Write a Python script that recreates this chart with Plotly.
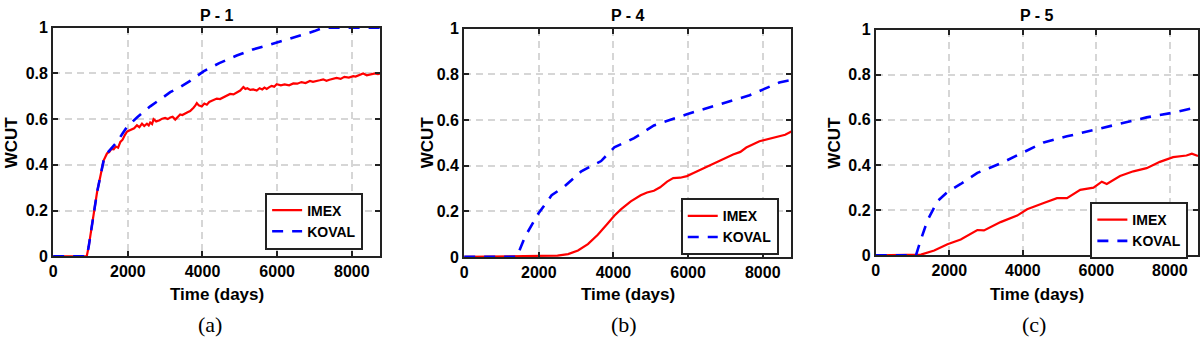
import plotly.graph_objects as go

# ---------------- data ----------------
titles = ["P - 1", "P - 4", "P - 5"]
panel_labels = ["(a)", "(b)", "(c)"]
series_names = ["IMEX", "KOVAL"]
x_ticks = [0, 2000, 4000, 6000, 8000]
x_tick_labels = ["0", "2000", "4000", "6000", "8000"]
y_ticks = [0, 0.2, 0.4, 0.6, 0.8, 1]
y_tick_labels = ["0", "0.2", "0.4", "0.6", "0.8", "1"]

a_imex_t = [0, 900, 950, 1040, 1176, 1290, 1354, 1443, 1500, 1560,
            1621, 1680, 1740, 1800, 1860, 1920, 1978, 2040, 2100, 2170,
            2245, 2310, 2380, 2440, 2512, 2560, 2600, 2650, 2690, 2760,
            2850, 2920, 3000, 3070, 3136, 3200, 3270, 3330, 3403, 3460,
            3530, 3600, 3670, 3720, 3760, 3810, 3849, 3900, 3980, 4050,
            4116, 4180, 4250, 4320, 4383, 4470, 4560, 4650, 4740, 4830,
            4920, 5010, 5096, 5150, 5200, 5280, 5360, 5452, 5530, 5600,
            5660, 5720, 5790, 5850, 5920, 5987, 6100, 6200, 6320, 6432,
            6540, 6650, 6760, 6878, 6960, 7050, 7140, 7234, 7320, 7400,
            7500, 7590, 7700, 7800, 7920, 8036, 8100, 8150, 8230, 8303,
            8400, 8481, 8550, 8620, 8700, 8766]
a_imex_v = [0, 0, 0.04, 0.143, 0.28, 0.37, 0.42, 0.45, 0.455, 0.47,
            0.468, 0.48, 0.475, 0.50, 0.51, 0.53, 0.545, 0.55, 0.555, 0.56,
            0.573, 0.565, 0.58, 0.57, 0.58, 0.572, 0.585, 0.578, 0.60, 0.59,
            0.595, 0.602, 0.605, 0.60, 0.607, 0.61, 0.598, 0.61, 0.62, 0.618,
            0.625, 0.63, 0.635, 0.642, 0.65, 0.66, 0.67, 0.66, 0.655, 0.668,
            0.663, 0.675, 0.68, 0.685, 0.69, 0.688, 0.695, 0.702, 0.71, 0.708,
            0.715, 0.725, 0.74, 0.732, 0.735, 0.728, 0.73, 0.725, 0.735, 0.73,
            0.738, 0.732, 0.74, 0.745, 0.742, 0.753, 0.748, 0.752, 0.748, 0.756,
            0.755, 0.762, 0.758, 0.767, 0.763, 0.765, 0.77, 0.774, 0.768, 0.772,
            0.778, 0.78, 0.776, 0.785, 0.782, 0.788, 0.786, 0.79, 0.795, 0.80,
            0.792, 0.795, 0.798, 0.80, 0.797, 0.80]
a_koval_t = [0, 900, 950, 1040, 1176, 1290, 1354, 1443, 1550, 1710, 1850, 1978, 2245, 2601, 2900,
             3136, 3400, 3670, 4027, 4450, 4918, 5350, 5809, 6250, 6700, 7000, 7234, 8766]
a_koval_v = [0, 0, 0.04, 0.143, 0.28, 0.37, 0.42, 0.45, 0.47, 0.50, 0.535, 0.566, 0.607, 0.656, 0.69,
             0.718, 0.74, 0.767, 0.809, 0.845, 0.878, 0.905, 0.926, 0.948, 0.968, 0.985, 1.0, 1.0]

b_imex_t = [0, 2254, 2500, 2785, 3050, 3315, 3580, 3845, 4022, 4199, 4464, 4729, 4900, 5083, 5250,
            5437, 5600, 5790, 5967, 6144, 6300, 6497, 6851, 7205, 7400, 7558, 7912, 8100, 8265, 8442,
            8600, 8766]
b_imex_v = [0, 0.003, 0.006, 0.0125, 0.028, 0.056, 0.097, 0.146, 0.18, 0.208, 0.243, 0.27, 0.282, 0.29, 0.305,
            0.33, 0.345, 0.347, 0.354, 0.368, 0.38, 0.396, 0.424, 0.449, 0.46, 0.479, 0.507, 0.515, 0.521, 0.528,
            0.535, 0.549]
b_koval_t = [0, 1414, 1459, 1635, 1989, 2343, 2696, 3138, 3669, 4022, 4553, 5083, 5967, 6851, 7647, 8442, 8766]
b_koval_v = [0, 0, 0.02, 0.09, 0.19, 0.27, 0.31, 0.375, 0.42, 0.48, 0.52, 0.576, 0.625, 0.667, 0.708, 0.764, 0.775]

c_imex_t = [0, 1100, 1228, 1589, 1950, 2311, 2600, 2763, 2943, 3395, 3846, 4117, 4569, 4930, 5201,
            5562, 5923, 6149, 6284, 6645, 7007, 7368, 7729, 8090, 8451, 8600, 8766]
c_imex_v = [0, 0, 0.003, 0.021, 0.049, 0.07, 0.095, 0.112, 0.11, 0.147, 0.176, 0.204, 0.232, 0.253, 0.253,
            0.29, 0.30, 0.326, 0.316, 0.351, 0.372, 0.386, 0.414, 0.435, 0.442, 0.45, 0.44]
c_koval_t = [0, 1093, 1228, 1408, 1679, 1950, 2311, 2763, 3395, 3937, 4569, 5201, 5923, 6645, 7368, 8090, 8766]
c_koval_v = [0, 0, 0.07, 0.155, 0.24, 0.28, 0.316, 0.365, 0.407, 0.45, 0.50, 0.527, 0.555, 0.583, 0.611, 0.632, 0.657]

x_max = 8766

# ---------------- layout geometry (pixels) ----------------
W, H = 1200, 348
boxes = [(49.3, 377.7, 20.7, 261.0), (461.7, 790.0, 21.7, 261.7), (874.7, 1198.0, 22.7, 260.0)]
ytitle_x = [8.3, 425.0, 833.0]
label_x = [207.0, 622.0, 1033.0]
legend_pos = [(262, 194), (679, 200), (1090, 204)]

FONT = "Liberation Sans"
panels = [(a_imex_t, a_imex_v, a_koval_t, a_koval_v),
          (b_imex_t, b_imex_v, b_koval_t, b_koval_v),
          (c_imex_t, c_imex_v, c_koval_t, c_koval_v)]

fig = go.Figure()
annotations = []
layout_axes = {}
for i, (it, iv, kt, kv) in enumerate(panels):
    n = "" if i == 0 else str(i + 1)
    leg = "legend" if i == 0 else f"legend{i + 1}"
    fig.add_trace(go.Scatter(x=it, y=iv, mode="lines", name=series_names[0],
                             line=dict(color="#ff0000", width=2.2),
                             xaxis=f"x{n}", yaxis=f"y{n}", legend=leg))
    fig.add_trace(go.Scatter(x=kt, y=kv, mode="lines", name=series_names[1],
                             line=dict(color="#0000ff", width=2.6, dash="11px,9px"),
                             xaxis=f"x{n}", yaxis=f"y{n}", legend=leg))
    x0, x1, y0, y1 = boxes[i]
    axis_common = dict(showline=True, linecolor="#222222", linewidth=2, mirror="ticks",
                       ticks="inside", ticklen=5, tickwidth=1.5, tickcolor="#222222",
                       showgrid=True, gridcolor="#d6d6d6", gridwidth=1.5, griddash="7px,5px",
                       zeroline=False, fixedrange=True,
                       tickfont=dict(family=FONT, size=16, color="black", weight="bold"))
    layout_axes[f"xaxis{n}"] = dict(axis_common, domain=[x0 / W, x1 / W], range=[0, x_max],
                                   tickvals=x_ticks, ticktext=x_tick_labels,
                                   anchor=f"y{n}")
    layout_axes[f"yaxis{n}"] = dict(axis_common, domain=[1 - y1 / H, 1 - y0 / H], range=[0, 1],
                                   tickvals=y_ticks, ticktext=y_tick_labels,
                                   anchor=f"x{n}")
    cx = (x0 + x1) / 2
    cy = (y0 + y1) / 2
    annotations.append(dict(text=f"<b>{titles[i]}</b>", x=cx / W, y=1 - 7.5 / H, xref="paper", yref="paper",
                            showarrow=False, xanchor="center", yanchor="middle",
                            font=dict(family=FONT, size=16, color="black")))
    annotations.append(dict(text="<b>Time (days)</b>", x=cx / W, y=1 - 301 / H, xref="paper", yref="paper",
                            showarrow=False, xanchor="center", yanchor="middle",
                            font=dict(family=FONT, size=17, color="black")))
    annotations.append(dict(text="<b>WCUT</b>", x=ytitle_x[i] / W, y=1 - cy / H, xref="paper", yref="paper",
                            showarrow=False, xanchor="center", yanchor="middle", textangle=-90,
                            font=dict(family=FONT, size=17, color="black")))
    annotations.append(dict(text=panel_labels[i], x=label_x[i] / W, y=1 - 333 / H, xref="paper", yref="paper",
                            showarrow=False, xanchor="center", yanchor="middle",
                            font=dict(family="Liberation Serif", size=22, color="black")))
    lx, ly = legend_pos[i]
    layout_axes[leg] = dict(x=lx / W, y=1 - ly / H, xref="paper", yref="paper",
                            xanchor="left", yanchor="top", bgcolor="white",
                            bordercolor="#222222", borderwidth=2,
                            font=dict(family=FONT, size=14, color="black", weight="bold"),
                            tracegroupgap=0, itemwidth=30)

fig.update_layout(width=W, height=H, margin=dict(l=0, r=0, t=0, b=0),
                  paper_bgcolor="white", plot_bgcolor="white",
                  annotations=annotations, showlegend=True,
                  font=dict(family=FONT, color="black"),
                  **layout_axes)

fig.write_html("out.html")
